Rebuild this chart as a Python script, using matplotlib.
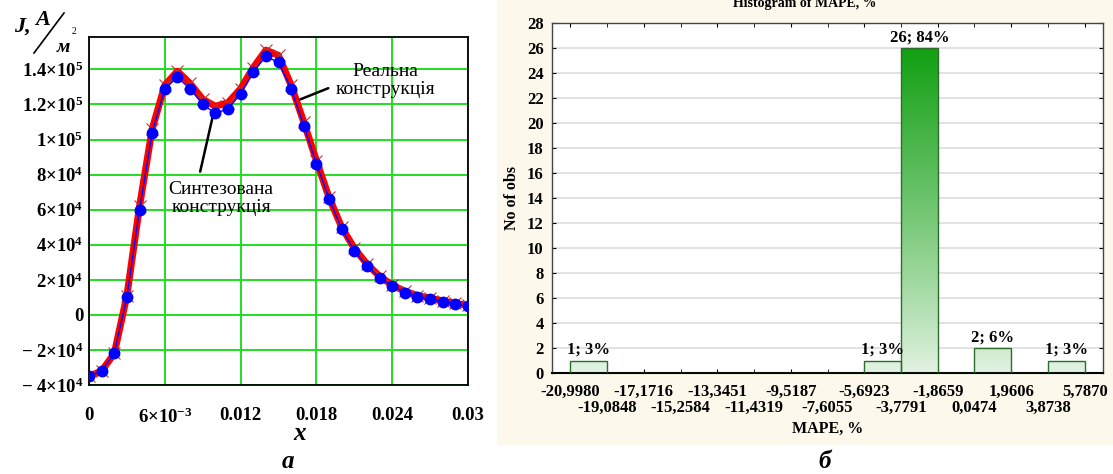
import numpy as np
import matplotlib
matplotlib.use("Agg")
import matplotlib.pyplot as plt
from matplotlib.patches import Rectangle
from matplotlib.lines import Line2D
from matplotlib.colors import LinearSegmentedColormap

plt.rcParams['font.family'] = ['Liberation Serif', 'DejaVu Serif']
plt.rcParams['mathtext.fontset'] = 'custom'
plt.rcParams['mathtext.rm'] = 'Liberation Serif:bold'
plt.rcParams['mathtext.it'] = 'Liberation Serif:bold:italic'
plt.rcParams['mathtext.bf'] = 'Liberation Serif:bold'

# ---- panel a: current density along x ----
x = [0.000, 0.001, 0.002, 0.003, 0.004, 0.005, 0.006, 0.007, 0.008, 0.009,
     0.010, 0.011, 0.012, 0.013, 0.014, 0.015, 0.016, 0.017, 0.018, 0.019,
     0.020, 0.021, 0.022, 0.023, 0.024, 0.025, 0.026, 0.027, 0.028, 0.029, 0.030]
j_real = [-35000, -32000, -22000, 11000, 62000, 106000, 131000, 139000, 132000, 123000,
          119000, 121000, 129000, 141000, 151000, 148000, 131000, 110000, 88000, 67000,
          50000, 38000, 29000, 22000, 17000, 13500, 11000, 9500, 8000, 6500, 5500]
j_synth = [-34900, -32000, -21700, 10300, 60000, 104000, 129000, 135500, 129000, 120000,
           115000, 117500, 126000, 138500, 147500, 144000, 129000, 108000, 86300, 66300,
           49000, 36600, 28000, 21100, 16600, 12600, 10300, 9000, 7400, 6000, 5100]
x_ticks = [0, 0.006, 0.012, 0.018, 0.024, 0.03]
x_ticklabels = ['0', r'$6{\times}10^{-3}$', '0.012', '0.018', '0.024', '0.03']
y_ticks = [-40000, -20000, 0, 20000, 40000, 60000, 80000, 100000, 120000, 140000]
y_ticklabels = [r'$-\ 4{\times}10^{4}$', r'$-\ 2{\times}10^{4}$', '0',
                r'$2{\times}10^{4}$', r'$4{\times}10^{4}$', r'$6{\times}10^{4}$',
                r'$8{\times}10^{4}$', r'$1{\times}10^{5}$', r'$1.2{\times}10^{5}$',
                r'$1.4{\times}10^{5}$']

# ---- panel b: histogram of MAPE ----
bin_edges = [-20.9980, -19.0848, -17.1716, -15.2584, -13.3451, -11.4319, -9.5187,
             -7.6055, -5.6923, -3.7791, -1.8659, 0.0474, 1.9606, 3.8738, 5.7870]
edge_labels = ['-20,9980', '-19,0848', '-17,1716', '-15,2584', '-13,3451', '-11,4319',
               '-9,5187', '-7,6055', '-5,6923', '-3,7791', '-1,8659', '0,0474',
               '1,9606', '3,8738', '5,7870']
counts = [1, 0, 0, 0, 0, 0, 0, 0, 1, 26, 0, 2, 0, 1]

W, H = 1113, 474
fig = plt.figure(figsize=(W / 100, H / 100), dpi=100)
fig.patch.set_facecolor('white')
bg = Rectangle((497 / W, 1 - 445 / H), (W - 497) / W, 445 / H,
               transform=fig.transFigure, facecolor='#fdf8ec', edgecolor='none', zorder=-10)
fig.patches.append(bg)

# ---------- left ----------
ax = fig.add_axes([89 / W, 1 - 385 / H, (468 - 89) / W, (385 - 37) / H])
ax.plot(x, j_real, color='#ff0000', lw=5, solid_joinstyle='round', zorder=3)
ax.plot(x, j_real, ls='none', marker='x', color='#b03a3a', ms=8, mew=0.8, zorder=3)
ax.plot(x, j_synth, color='#0000ff', lw=1, marker='o', ms=7.5, mfc='#0000ff',
        mec='#0000ff', zorder=4)
ax.set_xlim(0, 0.03)
ax.set_ylim(-40000, 158500)
ax.set_xticks(x_ticks)
ax.set_xticklabels(x_ticklabels)
ax.set_yticks(y_ticks)
ax.set_yticklabels(y_ticklabels)
ax.tick_params(axis='both', length=0, labelsize=13.5)
ax.tick_params(axis='x', pad=16)
ax.tick_params(axis='y', pad=4)
for lab in ax.get_xticklabels() + ax.get_yticklabels():
    lab.set_fontweight('bold')
ax.grid(True, color='#22dd22', lw=1.4)
ax.set_axisbelow(True)
for s in ax.spines.values():
    s.set_linewidth(1.3)
    s.set_color('black')

# callouts
ax.annotate('', xy=(0.01672, 122900), xytext=(0.01894, 129300),
            arrowprops=dict(arrowstyle='-', color='black', lw=1.8, shrinkA=0, shrinkB=0))
ax.text(0.02346, 133700, 'Реальна\nконструкція', ha='center', va='center',
        fontsize=14, linespacing=1.05, zorder=5)
ax.annotate('', xy=(0.00983, 114300), xytext=(0.00880, 81700),
            arrowprops=dict(arrowstyle='-', color='black', lw=1.8, shrinkA=0, shrinkB=0))
ax.text(0.01046, 66300, 'Синтезована\nконструкція', ha='center', va='center',
        fontsize=14, linespacing=1.05, zorder=5)

fig.text(300 / W, 1 - 434 / H, 'x', fontsize=18, fontweight='bold', style='italic',
         ha='center', va='center')
fig.text(288 / W, 1 - 461 / H, 'а', fontsize=18, fontweight='bold', style='italic',
         ha='center', va='center')
# y label J, A/м²
fig.text(22 / W, 1 - 27 / H, 'J,', fontsize=16, fontweight='bold', style='italic',
         ha='center', va='center')
fig.text(43 / W, 1 - 20 / H, 'A', fontsize=16, fontweight='bold', style='italic',
         ha='center', va='center')
fig.lines.append(Line2D([34 / W, 64 / W], [1 - 53 / H, 1 - 13 / H], color='black',
                        lw=1.2, transform=fig.transFigure))
fig.text(63 / W, 1 - 47 / H, 'м', fontsize=14, fontweight='bold', style='italic',
         ha='center', va='center')
fig.text(74 / W, 1 - 32 / H, '2', fontsize=7, ha='center', va='center')

# ---------- right ----------
bx = fig.add_axes([552 / W, 1 - 373 / H, (1103 - 552) / W, (373 - 23) / H])
bw = bin_edges[1] - bin_edges[0]
lefts = bin_edges[:-1]
widths = [bin_edges[i + 1] - bin_edges[i] for i in range(len(counts))]
bars = bx.bar(lefts, counts, width=widths, align='edge', facecolor='none',
              edgecolor='#2e6b2e', lw=1.0, zorder=3)
cmap = LinearSegmentedColormap.from_list(
    'g', [(0, '#e4f3e4'), (0.08, '#cdeacd'), (0.45, '#7cca7c'), (1, '#12a012')])
grad = np.linspace(0, 1, 256).reshape(-1, 1)
for b, c in zip(bars, counts):
    if c == 0:
        continue
    im = bx.imshow(grad, cmap=cmap, aspect='auto', origin='lower',
                   extent=(b.get_x(), b.get_x() + b.get_width(), 0, 26),
                   vmin=0, vmax=1, zorder=2)
    im.set_clip_path(b)
total = sum(counts)
for b, c in zip(bars, counts):
    if c == 0:
        continue
    bx.text(b.get_x() + b.get_width() / 2, c + 0.2, f'{c}; {round(100 * c / total)}%',
            ha='center', va='bottom', fontsize=12, fontweight='bold', zorder=5)

bx.set_xlim(bin_edges[0] - bw / 2, bin_edges[-1] + bw / 2)
bx.set_ylim(0, 28)
bx.set_yticks(range(0, 29, 2))
# bin-edge labels staggered on two rows
bx.set_xticks(bin_edges[0::2])
bx.set_xticklabels(edge_labels[0::2])
bx.set_xticks(bin_edges[1::2], minor=True)
bx.set_xticklabels(edge_labels[1::2], minor=True)
bx.tick_params(axis='x', which='both', direction='in', top=True, length=3, labelsize=12)
bx.tick_params(axis='x', which='major', pad=8)
bx.tick_params(axis='x', which='minor', pad=19)
bx.tick_params(axis='y', direction='in', right=True, length=3, pad=6, labelsize=12)
for lab in (bx.get_xticklabels() + bx.get_xticklabels(minor=True)
            + bx.get_yticklabels()):
    lab.set_fontweight('bold')
bx.yaxis.grid(True, color='#dddddd', lw=1.2)
bx.set_axisbelow(True)
for s in bx.spines.values():
    s.set_linewidth(1.0)
    s.set_color('#444444')
bx.spines['bottom'].set_color('black')
bx.spines['bottom'].set_linewidth(1.5)
bx.set_xlabel('MAPE, %', fontsize=11.5, fontweight='bold', labelpad=4)
bx.set_ylabel('No of obs', fontsize=11.5, fontweight='bold', labelpad=5)

fig.text(805 / W, 1 - 4 / H, 'Histogram of MAPE, %', fontsize=10, fontweight='bold',
         ha='center', va='center')
fig.text(825 / W, 1 - 461 / H, 'б', fontsize=18, fontweight='bold', style='italic',
         ha='center', va='center')

fig.savefig('out.png', dpi=100)
